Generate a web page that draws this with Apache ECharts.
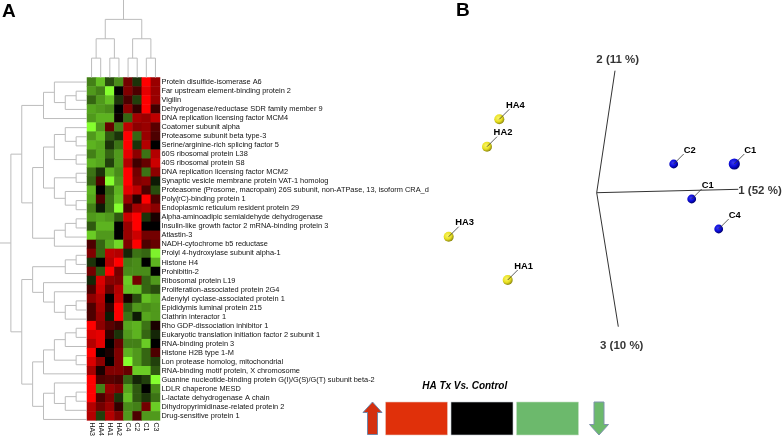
<!DOCTYPE html>
<html><head><meta charset="utf-8">
<style>html,body{margin:0;padding:0;background:#fff}#c{width:782px;height:439px}</style>
<script src="https://cdn.jsdelivr.net/npm/echarts@6/dist/echarts.min.js"></script>
</head><body><div id="c"></div>
<script>
const sampleLabels = ['HA3','HA4','HA1','HA2','C4','C2','C1','C3'];
const proteins = [
'Protein disulfide-isomerase A6','Far upstream element-binding protein 2','Vigilin','Dehydrogenase/reductase SDR family member 9','DNA replication licensing factor MCM4','Coatomer subunit alpha','Proteasome subunit beta type-3','Serine/arginine-rich splicing factor 5','60S ribosomal protein L38','40S ribosomal protein S8','DNA replication licensing factor MCM2','Synaptic vesicle membrane protein VAT-1 homolog','Proteasome (Prosome, macropain) 26S subunit, non-ATPase, 13, isoform CRA_d','Poly(rC)-binding protein 1','Endoplasmic reticulum resident protein 29','Alpha-aminoadipic semialdehyde dehydrogenase','Insulin-like growth factor 2 mRNA-binding protein 3','Atlastin-3','NADH-cytochrome b5 reductase','Prolyl 4-hydroxylase subunit alpha-1','Histone H4','Prohibitin-2','Ribosomal protein L19','Proliferation-associated protein 2G4','Adenylyl cyclase-associated protein 1','Epididymis luminal protein 215','Clathrin interactor 1','Rho GDP-dissociation inhibitor 1','Eukaryotic translation initiation factor 2 subunit 1','RNA-binding protein 3','Histone H2B type 1-M','Lon protease homolog, mitochondrial','RNA-binding motif protein, X chromosome','Guanine nucleotide-binding protein G(I)/G(S)/G(T) subunit beta-2','LDLR chaperone MESD','L-lactate dehydrogenase A chain','Dihydropyrimidinase-related protein 2','Drug-sensitive protein 1'];
const expression = [
[-.5,-.75,-.3,-.55,.45,-.2,1,.6],
[-.6,-.5,-1,0,.5,.3,.9,.6],
[-.4,-.6,-.75,-.2,.3,-.25,1,.6],
[-.65,-.6,-.55,0,.55,.2,1,.25],
[-.6,-.7,-.7,.05,-.4,.65,.6,.75],
[-1,-.6,.4,-.5,.75,.55,.6,.35],
[-.6,-.75,-.35,-.2,1,-.4,.6,.3],
[-.7,-.65,-.2,-.45,1,-.2,.7,0],
[-.5,-.65,-.4,-.6,.9,.55,-.45,.7],
[-.7,-.65,-.25,-.6,.7,.25,.4,.8],
[-.45,-.2,-.7,-.55,1,.45,-.45,.55],
[-.4,.3,-1,-.6,1,.5,.55,-.1],
[-.7,0,-.4,-.7,.9,.75,.3,-.3],
[-.65,.3,-.45,-.75,.6,.15,1,.3],
[-.5,-.1,-.45,-1,.3,.65,.7,.55],
[-.6,-.65,-.6,-.35,.8,1,-.2,.1],
[-.35,-.7,-.7,0,.6,1,0,0],
[-.8,-.6,-.6,0,.6,.8,.45,.45],
[.3,-.4,-.65,-.85,.5,1,.3,.4],
[.5,-.4,.75,.7,-.15,-.45,-.4,-.95],
[-.2,0,.7,1,-.5,-.55,0,-.7],
[.45,-.35,1,.45,-.55,-.55,-.55,0],
[-.15,.85,.55,.5,-.8,.45,-.4,-.6],
[.3,.8,.4,.7,-.75,-.75,-.4,-.3],
[.55,.7,0,.75,.1,-.3,-.75,-.65],
[.3,.65,.2,1,-.35,-.6,-.55,-.6],
[.3,.6,-.1,1,-.45,-.1,-.65,-.6],
[1,.55,.35,.25,-.65,-.7,-.45,.1],
[.85,.9,.2,-.2,-.6,-.7,-.4,-.15],
[.7,.9,0,.4,-.5,-.5,-.8,0],
[1,0,.1,.5,-.7,-.6,-.4,.3],
[.85,.55,0,.5,-1,-.6,-.4,-.25],
[.65,.1,.5,.5,.4,-.8,-.8,-.35],
[1,.3,.35,.3,-.4,-.15,-.25,-1],
[1,-.5,.6,.5,-.65,-.35,0,-.55],
[1,.3,.5,-.2,-.75,-.35,-.2,-.45],
[.7,.45,.6,.2,-.55,-.5,.45,-.8],
[.7,-.25,.7,.5,-.6,.3,-.6,-.6]];
// Dendrograms: [mergeLevel, childA, childB]; a number is a 1-based leaf.
const rowTree = [7,
 [6,
  [4,[3,[2,[1,2,3],4],1],5],
  [5,
   [4,
    [3,[2,6,[1,7,8]],[1,9,10]],
    [3,[1,11,12],[2,13,[1,14,15]]]],
   [3,[2,[1,16,17],18],19]]],
 [6,
  [5,
   [2,[1,20,21],22],
   [4,23,[3,24,[2,[1,25,26],27]]]],
  [5,
   [4,[3,[2,[1,28,29],30],[1,31,32]],33],
   [4,[3,34,[2,[1,35,36],37]],38]]]];
const colTree = [3,[2,[1,1,2],[1,3,4]],[2,[1,5,6],[1,7,8]]];
const rowRootLevel = 8, colRootLevel = 4;
const sampleNames = ['HA4','HA2','HA3','HA1','C2','C1','C1','C4'];
const pc1 = [-97.4,-109.7,-148,-89,77,137.6,95,122];
const pc2 = [73.4,46,-44,-87.3,28.7,28.7,-6.3,-36.3];
const axisNames = ['1 (52 %)','2 (11 %)','3 (10 %)'];
const axisEnds = [[141.6,3.4],[18.3,122],[21.6,-134]];
const axisLabelAt = [[163.3,1.7],[21,133.2],[25,-153]];
const legendTitle = 'HA Tx Vs. Control';

function bracketSegs(tree){ // returns [level,leafCoord] polyline points with NaN breaks
  const pts=[];
  (function walk(n){
    if(typeof n==='number') return {h:0,p:n-.5};
    const a=walk(n[1]), b=walk(n[2]);
    pts.push([a.h,a.p],[n[0],a.p],[n[0],b.p],[b.h,b.p],[NaN,NaN]);
    return {h:n[0],p:(a.p+b.p)/2};
  })(tree);
  return pts;
}
function rootOf(tree){
  return (function walk(n){ if(typeof n==='number') return n-.5;
    return (walk(n[1])+walk(n[2]))/2; })(tree);
}
const heatData=[];
expression.forEach((r,i)=>r.forEach((v,j)=>heatData.push([j,i,v])));
const lineGray='#bcbcbc';
const FONT='"Liberation Sans", Arial, sans-serif';
const rowPts=bracketSegs(rowTree).concat([[rowTree[0],rootOf(rowTree)],[rowRootLevel,rootOf(rowTree)]]);
const colPts=bracketSegs(colTree).map(p=>[p[1],p[0]]).concat([[rootOf(colTree),colTree[0]],[rootOf(colTree),colRootLevel]]);

const chart=echarts.init(document.getElementById('c'),null,{renderer:'canvas'});
const hidden=(o)=>Object.assign({show:false},o);
const pcaAxisSeries=axisEnds.map(e=>({type:'line',xAxisIndex:3,yAxisIndex:3,data:[[0,0],e],showSymbol:false,silent:true,
  lineStyle:{color:'#333',width:1}}));
function sphere(base,edge){return {type:'radial',x:.4,y:.38,r:.62,colorStops:[{offset:0,color:base[0]},{offset:.6,color:base[1]},{offset:1,color:edge}]};}
chart.setOption({
  animation:false,
  backgroundColor:'#fff',
  grid:[
    {left:87,top:77.5,width:73,height:346.5},
    {left:0,top:77.5,width:87,height:346.5},
    {left:87,top:0,width:73,height:77.5},
    {left:440,top:0,width:342,height:439}
  ],
  xAxis:[
    {type:'category',gridIndex:0,data:sampleLabels,axisLine:{show:false},axisTick:{show:false},splitLine:{show:false},
     axisLabel:{rotate:-90,fontSize:7,margin:2,color:'#111',fontFamily:FONT,interval:0}},
    hidden({type:'value',gridIndex:1,min:0,max:8,inverse:true}),
    hidden({type:'value',gridIndex:2,min:0,max:8}),
    hidden({type:'value',gridIndex:3,min:-156.7,max:185.3})
  ],
  yAxis:[
    {type:'category',gridIndex:0,data:proteins,inverse:true,position:'right',axisLine:{show:false},axisTick:{show:false},splitLine:{show:false},
     axisLabel:{fontSize:7.4,margin:1.5,color:'#111',fontFamily:FONT,interval:0}},
    hidden({type:'value',gridIndex:1,min:0,max:38,inverse:true}),
    hidden({type:'value',gridIndex:2,min:0,max:4}),
    hidden({type:'value',gridIndex:3,min:-246.3,max:192.7})
  ],
  visualMap:{show:false,type:'continuous',seriesIndex:0,min:-1,max:1,inRange:{color:['#85ff2e','#000000','#ff0000']}},
  graphic:[
    {type:'text',left:2,top:2,style:{text:'A',font:'bold 19px '+FONT,fill:'#000'}},
    {type:'text',left:456,top:1,style:{text:'B',font:'bold 19px '+FONT,fill:'#000'}},
    {type:'text',x:464.7,y:386.7,style:{text:legendTitle,font:'italic bold 10px '+FONT,fill:'#000',align:'center',verticalAlign:'middle'}},
    {type:'rect',shape:{x:385.5,y:402,width:62,height:33},style:{fill:'#e0300a',stroke:'#e9c7bd',lineWidth:.6}},
    {type:'rect',shape:{x:451,y:402,width:62,height:33},style:{fill:'#000',stroke:'#c7ccd4',lineWidth:.6}},
    {type:'rect',shape:{x:516.5,y:402,width:62,height:33},style:{fill:'#6cb96c',stroke:'#c4dfc4',lineWidth:.6}},
    {type:'polygon',shape:{points:[[372.5,402],[382,412.5],[377.5,412.5],[377.5,434.5],[367.5,434.5],[367.5,412.5],[363,412.5]]},style:{fill:'#d4300f',stroke:'#6f86a8',lineWidth:1}},
    {type:'polygon',shape:{points:[[599,435],[608.5,424.5],[604,424.5],[604,402],[594,402],[594,424.5],[589.5,424.5]]},style:{fill:'#6cb96c',stroke:'#7f93ad',lineWidth:1}}
  ],
  series:[
    {type:'heatmap',xAxisIndex:0,yAxisIndex:0,data:heatData,itemStyle:{borderWidth:0},silent:true},
    {type:'line',xAxisIndex:1,yAxisIndex:1,data:rowPts,showSymbol:false,connectNulls:false,silent:true,lineStyle:{color:lineGray,width:1}},
    {type:'line',xAxisIndex:2,yAxisIndex:2,data:colPts,showSymbol:false,connectNulls:false,silent:true,lineStyle:{color:lineGray,width:1}},
    ...pcaAxisSeries,
    {type:'scatter',xAxisIndex:3,yAxisIndex:3,symbolSize:0,silent:true,
     data:axisLabelAt.map((p,i)=>({value:p,name:axisNames[i]})),
     label:{show:true,position:'inside',formatter:'{b}',fontFamily:FONT,fontWeight:'bold',fontSize:11.5,color:'#000'}},
    {type:'custom',xAxisIndex:3,yAxisIndex:3,silent:true,
     data:pc1.map((x,i)=>[x,pc2[i],i]),
     renderItem(params,api){
       const c=api.coord([api.value(0),api.value(1)]);
       const i=api.value(2), name=sampleNames[i], ha=name.startsWith('HA');
       const r=ha?5:(i===5?5.6:4.4);
       return {type:'group',children:[
         {type:'circle',shape:{cx:c[0],cy:c[1],r},style:{fill:ha?sphere(['#fbf56a','#e8e020'],'#8f8a10'):sphere(['#3a3af0','#0a0ad8'],'#00006a')}},
         {type:'line',shape:{x1:c[0],y1:c[1],x2:c[0]+10,y2:c[1]-10},style:{stroke:'#333',lineWidth:.8}},
         {type:'text',style:{text:name,x:c[0]+16,y:c[1]-14,align:'center',verticalAlign:'middle',font:'bold 9.4px '+FONT,fill:'#000'}}
       ]};
     }}
  ]
});
</script></body></html>
